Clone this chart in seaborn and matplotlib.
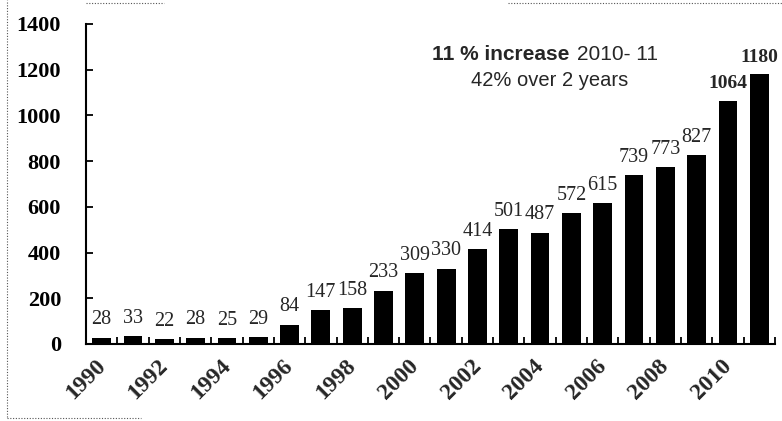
import matplotlib
matplotlib.use("Agg")
import matplotlib.pyplot as plt
from matplotlib.lines import Line2D
import matplotlib.transforms as mtransforms
import seaborn as sns
import pandas as pd

years = list(range(1990, 2012))
counts = [28, 33, 22, 28, 25, 29, 84, 147, 158, 233, 309, 330,
          414, 501, 487, 572, 615, 739, 773, 827, 1064, 1180]
bold_labels = [1064, 1180]
yticks = [0, 200, 400, 600, 800, 1000, 1200, 1400]
note_line1_bold = "11 % increase"
note_line1_rest = "2010- 11"
note_line2 = "42% over 2 years"

sns.set_theme(style="white")
plt.rcParams["font.family"] = ["Liberation Serif", "DejaVu Serif"]

df = pd.DataFrame({"year": [str(y) for y in years], "count": counts})

fig = plt.figure(figsize=(7.82, 4.21), dpi=100)
ax = fig.add_axes([0.110, 0.183, 0.881, 0.760])

sns.barplot(data=df, x="year", y="count", color="black", width=0.6,
            saturation=1, ax=ax, edgecolor="black", linewidth=0)

ax.set_xlim(-0.5, len(years) - 0.5)
ax.set_ylim(0, 1400)
ax.set_xlabel("")
ax.set_ylabel("")

# y axis: bold serif labels, ticks pointing into the plot
ax.set_yticks(yticks)
ax.set_yticklabels([str(t) for t in yticks], fontsize=16, fontweight="bold")
ax.tick_params(axis="y", direction="in", length=5, width=1.3, pad=18,
               left=True, colors="black")

# x axis: labels on every other year, tick marks between bars
label_pos = list(range(0, len(years), 2))
ax.set_xticks(label_pos)
ax.set_xticklabels([str(years[i]) for i in label_pos], rotation=45,
                   ha="right", va="top", rotation_mode="anchor",
                   fontsize=17, fontweight="bold")
ax.set_xticks([i + 0.5 for i in range(len(years))], minor=True)
ax.tick_params(axis="x", which="major", length=0, pad=8)
ax.tick_params(axis="x", which="minor", direction="in", length=5,
               width=1.3, bottom=True, colors="black")
shift = mtransforms.ScaledTranslation(-5 / 72, 0, fig.dpi_scale_trans)
for lbl in ax.get_xticklabels():
    lbl.set_transform(lbl.get_transform() + shift)

for side in ("top", "right"):
    ax.spines[side].set_visible(False)
for side in ("left", "bottom"):
    ax.spines[side].set_color("black")
    ax.spines[side].set_linewidth(1.5)

# value labels above each bar
for i, v in enumerate(counts):
    is_bold = v in bold_labels
    ax.annotate(str(v), (i, v), xytext=(0, 6), textcoords="offset points",
                ha="center", va="bottom", fontsize=14 if is_bold else 14.5,
                fontweight="bold" if is_bold else "normal")

# growth note
sans = ["Liberation Sans", "DejaVu Sans"]
ax.text(0.702, 0.905, note_line1_bold, transform=ax.transAxes,
        ha="right", va="center", fontsize=15, fontweight="bold",
        family=sans)
ax.text(0.713, 0.905, note_line1_rest, transform=ax.transAxes,
        ha="left", va="center", fontsize=15, family=sans)
ax.text(0.673, 0.822, note_line2, transform=ax.transAxes,
        ha="center", va="center", fontsize=14.5, family=sans)

# faint dotted frame around the figure
frame = dict(color="#555555", linewidth=0.8, linestyle=(0, (1, 1.5)),
             transform=fig.transFigure)
fig.add_artist(Line2D([0.009, 0.009], [0.01, 1.0], **frame))
fig.add_artist(Line2D([0.009, 0.18], [0.008, 0.008], **frame))
fig.add_artist(Line2D([0.11, 0.21], [0.993, 0.993], **frame))
fig.add_artist(Line2D([0.65, 1.0], [0.993, 0.993], **frame))

fig.savefig("out.png", dpi=100)
